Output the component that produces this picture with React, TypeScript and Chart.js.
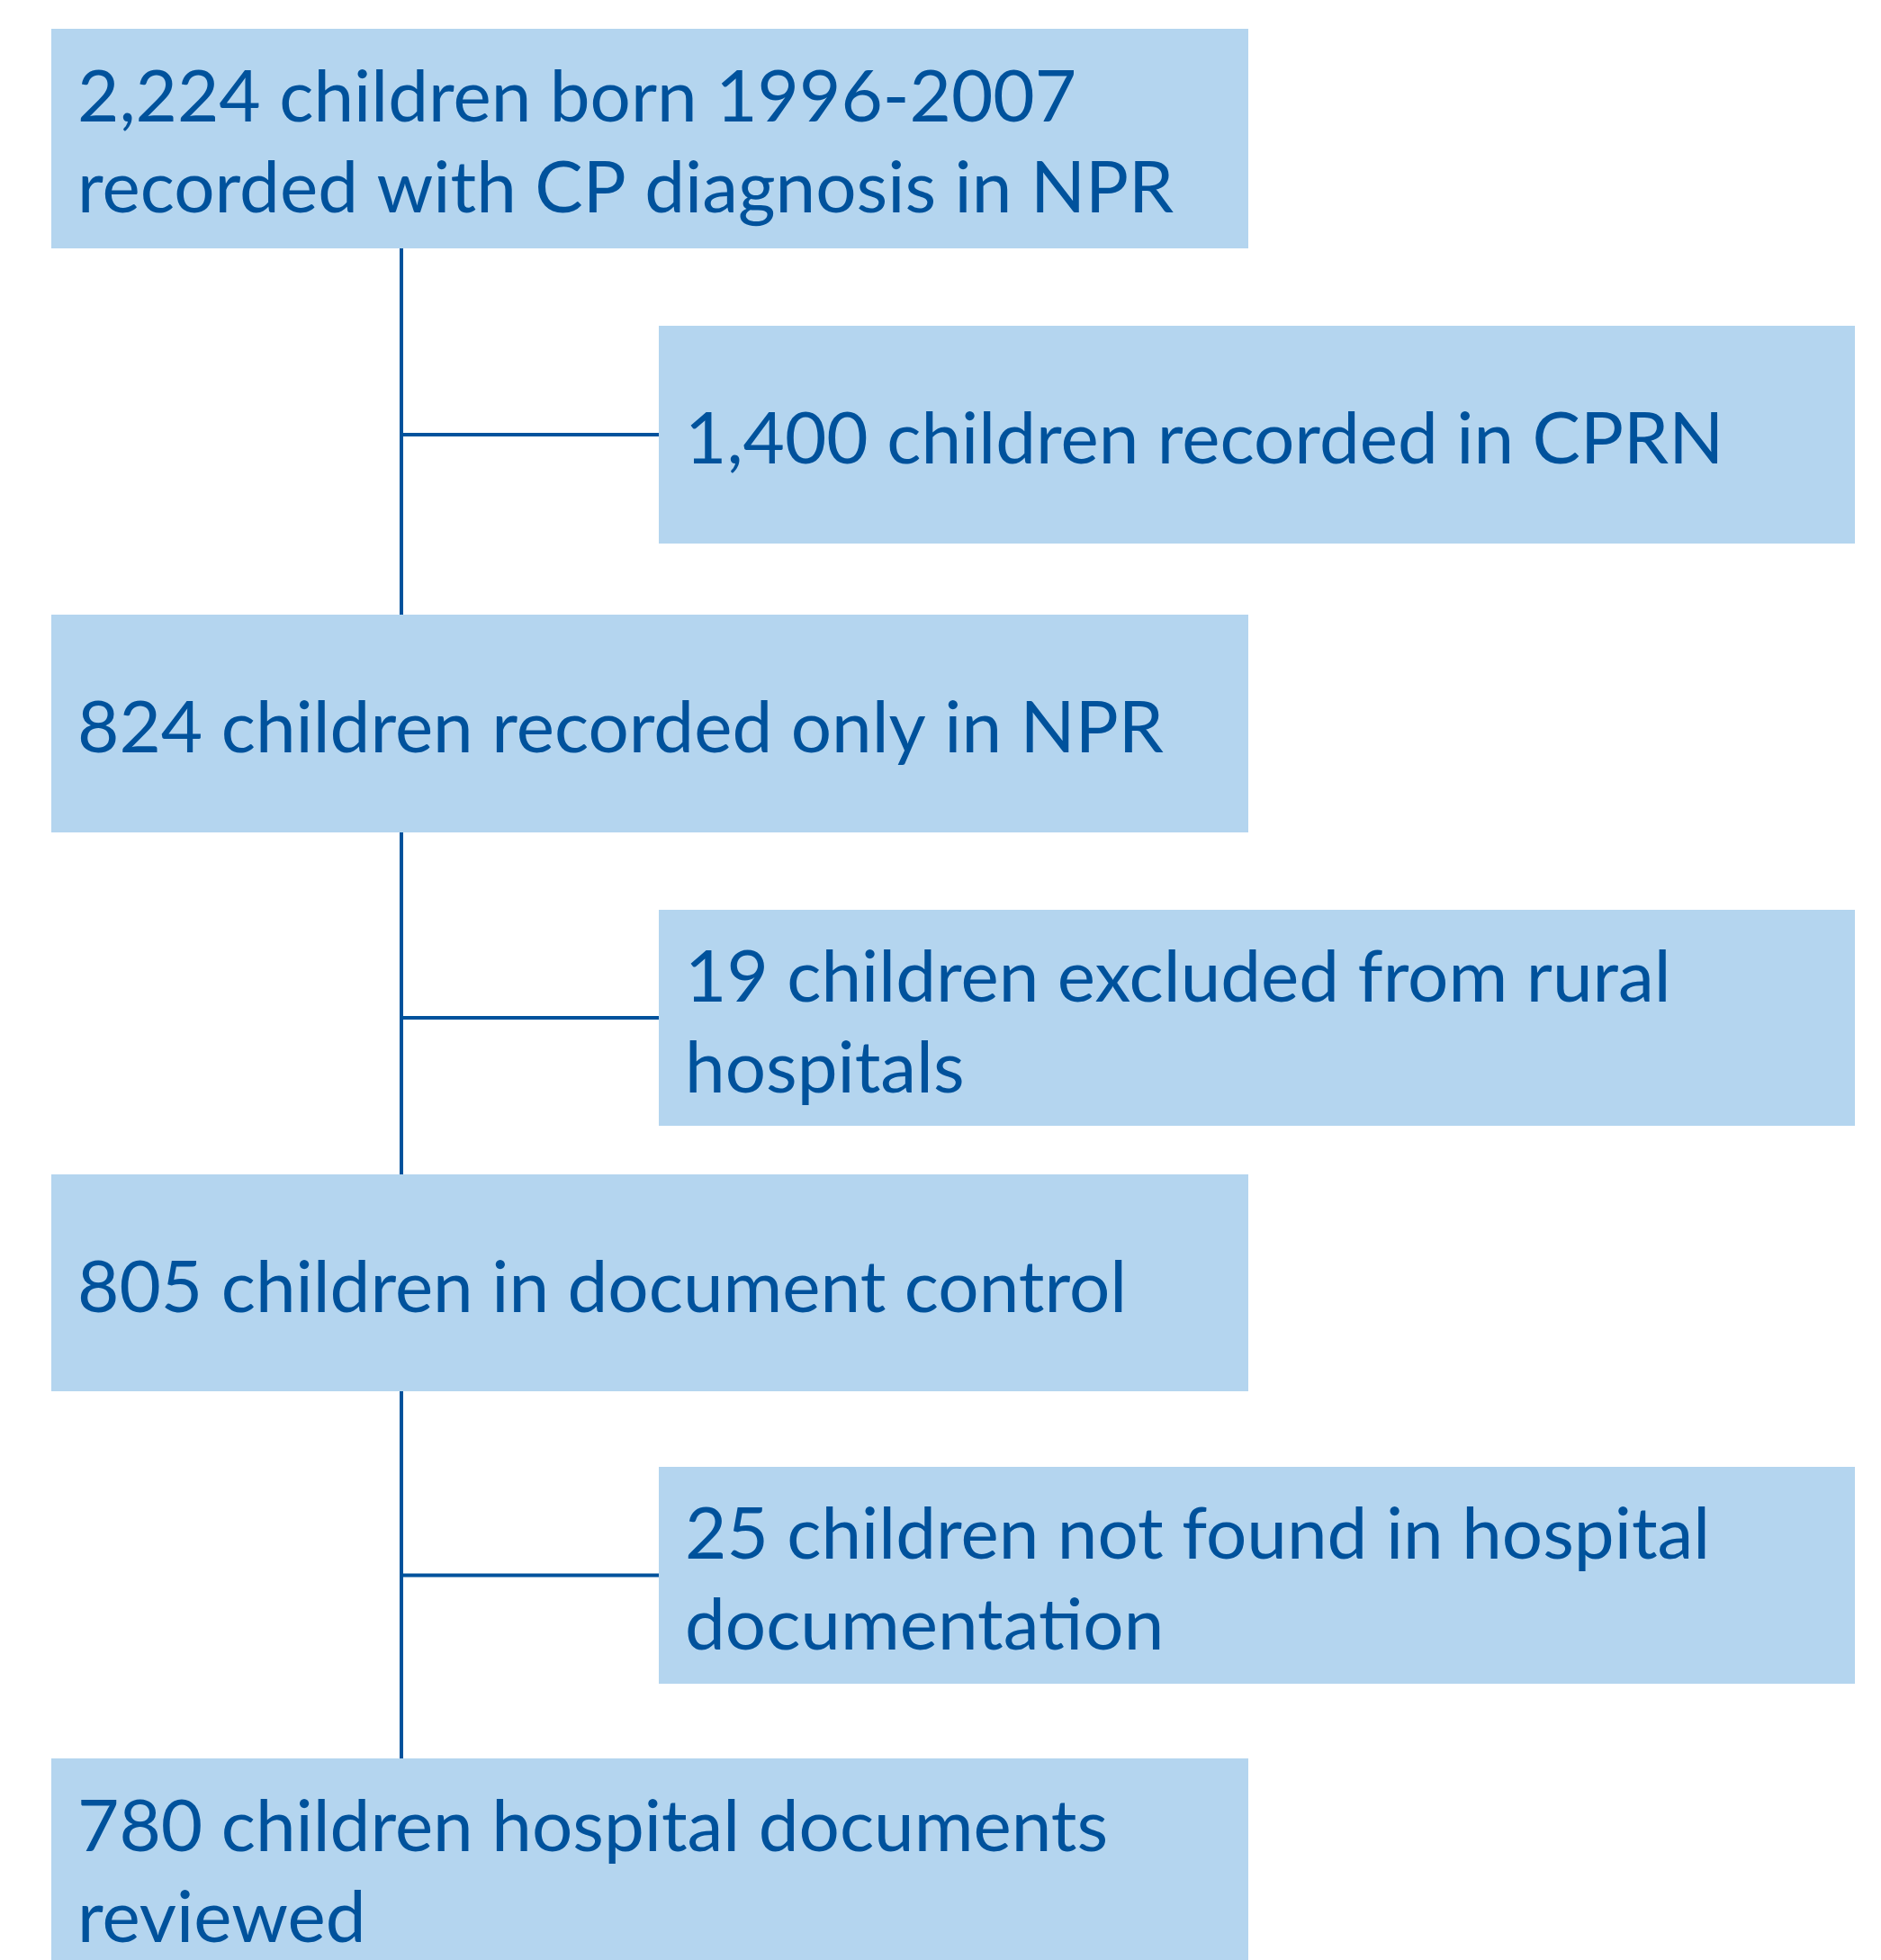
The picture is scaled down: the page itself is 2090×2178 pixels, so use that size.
import React, { useEffect, useRef } from "react";
import { Chart, registerables } from "chart.js";

Chart.register(...registerables);

// ---- content ----
const mainSteps: string[][] = [
  ["2,224 children born 1996-2007", "recorded with CP diagnosis in NPR"],
  ["824 children recorded only in NPR"],
  ["805 children in document control"],
  ["780 children hospital documents", "reviewed"],
];
const sideSteps: string[][] = [
  ["1,400 children recorded in CPRN"],
  ["19 children excluded from rural", "hospitals"],
  ["25 children not found in hospital", "documentation"],
];

// ---- layout (chart units == page pixels) ----
const mainBoxLeft = 57;
const mainBoxRight = 1387;
const mainBoxTops = [32, 683, 1305, 1954];
const mainBoxBottoms = [276, 925, 1546, 2200];
const sideBoxLeft = 732;
const sideBoxRight = 2061;
const sideBoxTops = [362, 1011, 1630];
const sideBoxBottoms = [604, 1251, 1871];
const trunkX = 446;
const textPad = 29;
const lineGap = 101;
const baselineShift = 32;

const BOX = "#b4d5ef";
const INK = "#00529c";
const FONT = "80px Lato";

export default function App() {
  const ref = useRef<HTMLCanvasElement | null>(null);

  useEffect(() => {
    document.body.style.margin = "0";
    const canvas = ref.current;
    if (!canvas) return;

    const connectors: any[] = [];
    for (let i = 0; i < sideSteps.length; i++) {
      const sideMid = (sideBoxTops[i] + sideBoxBottoms[i]) / 2;
      connectors.push({
        type: "scatter",
        data: [
          { x: trunkX, y: mainBoxBottoms[i] },
          { x: trunkX, y: mainBoxTops[i + 1] },
        ],
      });
      connectors.push({
        type: "scatter",
        data: [
          { x: trunkX, y: sideMid },
          { x: sideBoxLeft, y: sideMid },
        ],
      });
    }
    const datasets = connectors.map((c) => ({
      ...c,
      showLine: true,
      borderColor: INK,
      backgroundColor: INK,
      borderWidth: 4,
      pointRadius: 0,
      borderCapStyle: "butt",
    }));

    const boxes: { x0: number; x1: number; y0: number; y1: number; lines: string[] }[] = [];
    mainSteps.forEach((lines, i) =>
      boxes.push({ x0: mainBoxLeft, x1: mainBoxRight, y0: mainBoxTops[i], y1: mainBoxBottoms[i], lines })
    );
    sideSteps.forEach((lines, i) =>
      boxes.push({ x0: sideBoxLeft, x1: sideBoxRight, y0: sideBoxTops[i], y1: sideBoxBottoms[i], lines })
    );

    const flowPlugin = {
      id: "flow",
      beforeDraw(chart: any) {
        const ctx = chart.ctx;
        ctx.save();
        ctx.fillStyle = "#ffffff";
        ctx.fillRect(0, 0, chart.width, chart.height);
        ctx.restore();
      },
      beforeDatasetsDraw(chart: any) {
        const { ctx, scales } = chart;
        const sx = scales.x, sy = scales.y;
        ctx.save();
        ctx.fillStyle = BOX;
        boxes.forEach((b) => {
          const px0 = sx.getPixelForValue(b.x0);
          const px1 = sx.getPixelForValue(b.x1);
          const py0 = sy.getPixelForValue(b.y0);
          const py1 = sy.getPixelForValue(b.y1);
          ctx.fillRect(px0, py0, px1 - px0, py1 - py0);
        });
        ctx.restore();
      },
      afterDatasetsDraw(chart: any) {
        const { ctx, scales } = chart;
        const sx = scales.x, sy = scales.y;
        ctx.save();
        ctx.fillStyle = INK;
        ctx.font = FONT;
        ctx.textBaseline = "alphabetic";
        ctx.textAlign = "left";
        boxes.forEach((b) => {
          const mid = (b.y0 + Math.min(b.y1, b.y0 + 242)) / 2 + baselineShift;
          const n = b.lines.length;
          b.lines.forEach((t, k) => {
            const y = mid + (k - (n - 1) / 2) * lineGap;
            ctx.fillText(t, sx.getPixelForValue(b.x0 + textPad), sy.getPixelForValue(y));
          });
        });
        ctx.restore();
      },
    };

    const chart = new Chart(canvas, {
      type: "scatter",
      data: { datasets },
      options: {
        animation: false,
        responsive: true,
        maintainAspectRatio: false,
        layout: { padding: 0 },
        plugins: { legend: { display: false }, tooltip: { enabled: false } },
        scales: {
          x: { type: "linear", min: 0, max: 2090, display: false },
          y: { type: "linear", min: 0, max: 2178, reverse: true, display: false },
        },
      },
      plugins: [flowPlugin],
    } as any);

    return () => chart.destroy();
  }, []);

  return (
    <div style={{ position: "absolute", left: 0, top: 0, width: 2090, height: 2178 }}>
      <canvas ref={ref} />
    </div>
  );
}
